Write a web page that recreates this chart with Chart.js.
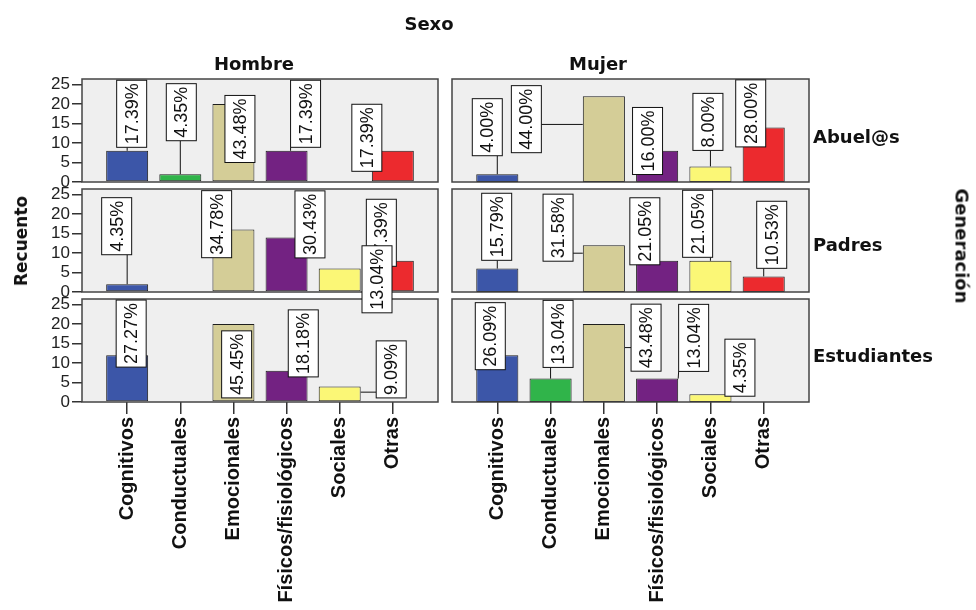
<!DOCTYPE html>
<html lang="es">
<head>
<meta charset="UTF-8">
<title>Recuento por Sexo y Generación</title>
<script src="https://cdn.jsdelivr.net/npm/chart.js"></script>
<style>
  body { margin: 0; background: #fff; }
  #wrap { position: relative; width: 976px; height: 610px; overflow: hidden; font-family: "DejaVu Sans", sans-serif; }
  #wrap canvas { position: absolute; left: 0; top: 0; }
  .t { position: absolute; font-weight: bold; font-size: 18px; color: #111; white-space: nowrap; z-index: 10; }
  .c { transform: translate(-50%, -50%); }
  .l { transform: translateY(-50%); }
</style>
</head>
<body>
<div id="wrap">
  <div class="t c" style="left:429px;top:23px">Sexo</div>
  <div class="t c" style="left:254px;top:63px">Hombre</div>
  <div class="t c" style="left:598px;top:63px">Mujer</div>
  <div class="t l" style="left:813px;top:136px">Abuel@s</div>
  <div class="t l" style="left:813px;top:244px">Padres</div>
  <div class="t l" style="left:813px;top:355px">Estudiantes</div>
  <div class="t" style="left:21px;top:241px;font-size:17px;transform:translate(-50%,-50%) rotate(-90deg)">Recuento</div>
  <div class="t" style="left:962px;top:246px;transform:translate(-50%,-50%) rotate(90deg)">Generación</div>
</div>

<script>
  const categories = ['Cognitivos', 'Conductuales', 'Emocionales', 'Físicos/fisiológicos', 'Sociales', 'Otras'];
  const sexes = ['Hombre', 'Mujer'];
  const generations = ['Abuel@s', 'Padres', 'Estudiantes'];
  const yTicks = [0, 5, 10, 15, 20, 25];

  const hombreAbuelos = [8, 2, 20, 8, 0, 8];
  const mujerAbuelos = [2, 0, 22, 8, 4, 14];
  const hombrePadres = [2, 0, 16, 14, 6, 8];
  const mujerPadres = [6, 0, 12, 8, 8, 4];
  const hombreEstudiantes = [12, 0, 20, 8, 4, 0];
  const mujerEstudiantes = [12, 6, 20, 6, 2, 0];

  const barColors = ['#3c56a8', '#30b44a', '#d4cd97', '#732282', '#fbf776', '#ec2a2e'];

  // panel placement on the page
  const colLeft = [82, 452];
  const colRight = [438, 809];
  const rowTop = [79, 189, 299];
  const panelH = 103;

  // where SPSS pushed each % box, relative to the top centre of its bar (px)
  const labelNudge = {
    'Hombre|Abuel@s': [[4.5, -37], [1, -62], [6.5, 25], [19, -37], null, [-26, -13]],
    'Mujer|Abuel@s': [[-10, -47], null, [-77.5, 23], [-9.6, -9.8], [-2.5, -44.5], [-13, -14]],
    'Hombre|Padres': [[-10.5, -58], null, [-16.8, -5.4], [23.4, -13], [37.3, 10.7], [-11.5, -28]],
    'Mujer|Padres': [[-0.6, -41.8], null, [-45.8, -17.5], [-12.3, -29.5], [-12.8, -37], [8, -41.6]],
    'Hombre|Estudiantes': [[4, -21.6], null, [3.2, 40.4], [16.7, -27.4], [51.5, -17], null],
    'Mujer|Estudiantes': [[-7, -19], [7.5, -44.7], [42.2, 13.7], [36.5, -40.7], [29.5, -26.5], null]
  };

  const panels = [
    [hombreAbuelos, hombrePadres, hombreEstudiantes],
    [mujerAbuelos, mujerPadres, mujerEstudiantes]
  ];

  Chart.defaults.font.family = '"Liberation Sans", Arial, sans-serif';

  const panelPlugin = {
    id: 'panelBox',
    beforeDatasetsDraw(chart) {
      const { ctx, chartArea: a } = chart;
      ctx.save();
      ctx.fillStyle = '#efefef';
      ctx.fillRect(a.left, a.top, a.width, a.height);
      ctx.restore();
    },
    afterDatasetsDraw(chart) {
      const { ctx, chartArea: a } = chart;
      ctx.save();
      ctx.strokeStyle = '#444';
      ctx.lineWidth = 1.5;
      ctx.strokeRect(a.left, a.top, a.width, a.height);
      ctx.restore();
    }
  };

  const clamp = (v, lo, hi) => Math.max(lo, Math.min(hi, v));

  const pctPlugin = {
    id: 'pctBoxes',
    afterDraw(chart, args, opts) {
      const { ctx } = chart;
      const meta = chart.getDatasetMeta(0);
      const values = chart.data.datasets[0].data.map(d => d.y);
      const total = values.reduce((a, b) => a + b, 0);
      ctx.save();
      ctx.font = '18px "Liberation Sans", Arial, sans-serif';
      for (let i = values.length - 1; i >= 0; i--) {
        const nudge = opts.nudge[i];
        if (!values[i] || !nudge) continue;
        const bar = meta.data[i];
        const text = (values[i] / total * 100).toFixed(2) + '%';
        const len = ctx.measureText(text).width + 6;
        const thick = 30;
        const cx = bar.x + nudge[0];
        const cy = bar.y + nudge[1];
        const L = cx - thick / 2, R = cx + thick / 2, T = cy - len / 2, B = cy + len / 2;
        const bl = bar.x - bar.width / 2, br = bar.x + bar.width / 2, bt = bar.y, bb = bar.base;

        // leader line from box to bar
        let p1 = null, p2 = null;
        if (B < bt - 1) {
          const x1 = clamp(bar.x, L, R);
          p1 = [x1, B];
          p2 = [clamp(x1, bl, br), bt];
        } else if (R < bl || L > br) {
          const y = (Math.max(T, bt) + Math.min(B, bb)) / 2;
          p1 = [R < bl ? R : L, y];
          p2 = [R < bl ? bl : br, y];
        }
        if (p1 && Math.hypot(p1[0] - p2[0], p1[1] - p2[1]) > 2) {
          ctx.strokeStyle = '#111';
          ctx.lineWidth = 1;
          ctx.beginPath();
          ctx.moveTo(p1[0], p1[1]);
          ctx.lineTo(p2[0], p2[1]);
          ctx.stroke();
        }

        ctx.fillStyle = '#fff';
        ctx.fillRect(L, T, thick, len);
        ctx.strokeStyle = '#111';
        ctx.lineWidth = 1;
        ctx.strokeRect(L, T, thick, len);

        ctx.save();
        ctx.translate(cx, cy);
        ctx.rotate(-Math.PI / 2);
        ctx.fillStyle = '#111';
        ctx.textAlign = 'center';
        ctx.textBaseline = 'middle';
        ctx.fillText(text, 0, 1);
        ctx.restore();
      }
      ctx.restore();
    }
  };

  const wrap = document.getElementById('wrap');

  for (let c = 0; c < sexes.length; c++) {
    for (let r = 0; r < generations.length; r++) {
      const counts = panels[c][r];
      const canvas = document.createElement('canvas');
      canvas.width = 976;
      canvas.height = 610;
      canvas.style.zIndex = 3 - r;
      wrap.appendChild(canvas);
      const showX = r === 2;
      const showY = c === 0;

      new Chart(canvas, {
        type: 'bar',
        data: {
          datasets: [{
            data: counts.map((v, i) => ({ x: i, y: v })),
            backgroundColor: barColors,
            borderColor: '#1e1e1e',
            borderWidth: 1,
            borderSkipped: false,
            categoryPercentage: 0.79,
            barPercentage: 1
          }]
        },
        options: {
          responsive: false,
          animation: false,
          events: [],
          layout: {
            padding: {
              left: showY ? 0 : colLeft[c],
              right: 976 - colRight[c],
              top: rowTop[r],
              bottom: showX ? 0 : 610 - rowTop[r] - panelH
            }
          },
          plugins: {
            legend: { display: false },
            tooltip: { enabled: false },
            pctBoxes: { nudge: labelNudge[sexes[c] + '|' + generations[r]] }
          },
          scales: {
            x: {
              type: 'linear',
              min: -0.85,
              max: 5.85,
              offset: false,
              display: showX,
              afterBuildTicks: s => { s.ticks = categories.map((_, i) => ({ value: i })); },
              afterFit: s => { if (showX) s.height = 610 - rowTop[2] - panelH; },
              grid: { offset: false, drawOnChartArea: false, tickLength: 12, color: '#333', lineWidth: 1.5 },
              border: { display: false },
              ticks: {
                autoSkip: false,
                minRotation: 90,
                maxRotation: 90,
                padding: 3,
                color: '#111',
                font: { size: 20, weight: 'bold' },
                callback: v => categories[v]
              }
            },
            y: {
              min: 0,
              max: 26.4,
              display: showY,
              afterBuildTicks: s => { s.ticks = yTicks.map(v => ({ value: v })); },
              afterFit: s => { if (showY) s.width = colLeft[0]; },
              grid: { drawOnChartArea: false, tickLength: 10, color: '#333', lineWidth: 1.5 },
              border: { display: false },
              ticks: { autoSkip: false, padding: 2, color: '#222', font: { size: 17 } }
            }
          }
        },
        plugins: [panelPlugin, pctPlugin]
      });
    }
  }
</script>
</body>
</html>
